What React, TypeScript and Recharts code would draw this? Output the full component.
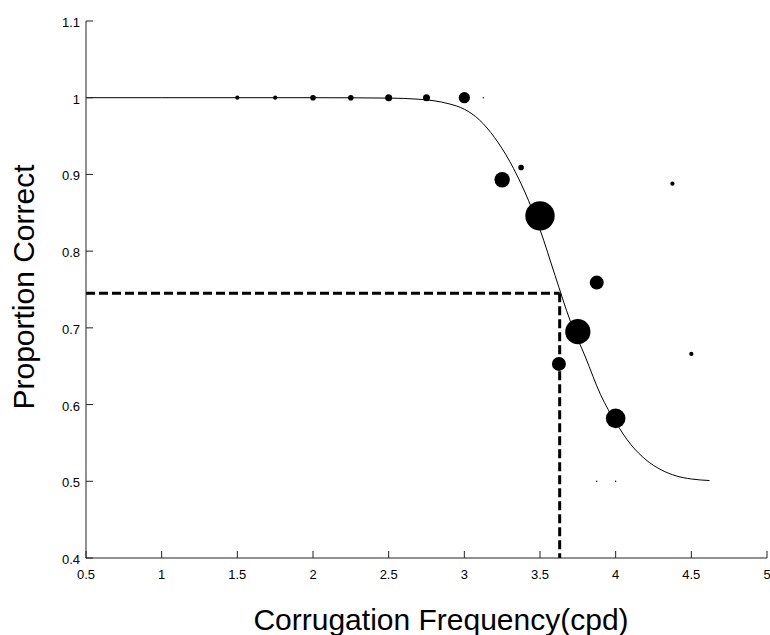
import { ComposedChart, Line, Scatter, XAxis, YAxis } from 'recharts';

// fitted psychometric curve
const curveX = [0.5, 1, 1.5, 2, 2.5, 2.7, 2.8, 2.9, 3.0, 3.1, 3.2, 3.3, 3.4, 3.5, 3.6, 3.7, 3.8, 3.9, 4.0, 4.1, 4.2, 4.3, 4.4, 4.5, 4.62];
const curveY = [1, 1, 1, 1, 0.9995, 0.998, 0.996, 0.992, 0.985, 0.971, 0.948, 0.917, 0.877, 0.828, 0.768, 0.709, 0.662, 0.613, 0.577, 0.548, 0.528, 0.515, 0.507, 0.503, 0.501];

// observed proportions, n = number of trials (sets the dot size)
const obsX = [1.5, 1.75, 2, 2.25, 2.5, 2.75, 3, 3.125, 3.25, 3.375, 3.5, 3.625, 3.75, 3.875, 4, 4.375, 4.5, 3.875, 4];
const obsY = [1, 1, 1, 1, 1, 1, 1, 1, 0.893, 0.909, 0.846, 0.653, 0.695, 0.759, 0.582, 0.888, 0.666, 0.5, 0.5];
const obsN = [3, 3, 4, 4, 5, 5, 8, 1, 11, 4, 21, 10, 18, 10, 14, 3, 3, 1, 1];

// threshold at 75% correct
const threshX = 3.63;
const threshY = 0.745;

const xTicks = [0.5, 1, 1.5, 2, 2.5, 3, 3.5, 4, 4.5, 5];
const yTicks = [0.4, 0.5, 0.6, 0.7, 0.8, 0.9, 1, 1.1];

const curveData = curveX.map((x, i) => ({ x, y: curveY[i] }));
const obsData = obsX.map((x, i) => ({ x, y: obsY[i], n: obsN[i] }));
const hLine = [{ x: 0.5, y: threshY }, { x: threshX, y: threshY }];
const vLine = [{ x: threshX, y: threshY }, { x: threshX, y: 0.4 }];

const font = '"Liberation Sans", Arial, Helvetica, sans-serif';
const axisColor = '#222';

function YTick(props: any) {
  const { x, y, payload } = props;
  return (
    <g>
      <line x1={x} y1={y} x2={x + 7} y2={y} stroke={axisColor} />
      <text x={x - 6} y={y + 6} textAnchor="end" fontSize={13} fontFamily={font} fill="#000">
        {String(payload.value)}
      </text>
    </g>
  );
}

function XTick(props: any) {
  const { x, y, payload } = props;
  return (
    <g>
      <line x1={x} y1={y} x2={x} y2={y - 7} stroke={axisColor} />
      <text x={x} y={y + 21} textAnchor="middle" fontSize={13} fontFamily={font} fill="#000">
        {String(payload.value)}
      </text>
    </g>
  );
}

function Dot(props: any) {
  const { cx, cy, payload } = props;
  return <circle cx={cx} cy={cy} r={payload.n * 0.7} fill="#000" />;
}

const xLabel = () => (
  <text x={441} y={630} textAnchor="middle" fontSize={30} fontFamily={font} fill="#000">
    Corrugation Frequency(cpd)
  </text>
);

const yLabel = () => (
  <text x={34} y={287} transform="rotate(-90 34 287)" textAnchor="middle" fontSize={30} fontFamily={font} fill="#000">
    Proportion Correct
  </text>
);

export default function App() {
  return (
    <div style={{ position: 'absolute', left: 0, top: 0, background: '#fff' }}>
      <ComposedChart width={770} height={635} margin={{ top: 21, right: 3, bottom: 0, left: 0 }}>
        <XAxis
          type="number"
          dataKey="x"
          domain={[0.5, 5]}
          ticks={xTicks}
          allowDataOverflow
          height={77}
          tickSize={0}
          tickMargin={0}
          tickLine={false}
          stroke={axisColor}
          tick={<XTick />}
          interval={0}
          label={xLabel}
        />
        <YAxis
          type="number"
          dataKey="y"
          domain={[0.4, 1.1]}
          ticks={yTicks}
          allowDataOverflow
          width={86}
          tickSize={0}
          tickMargin={0}
          tickLine={false}
          stroke={axisColor}
          tick={<YTick />}
          interval={0}
          label={yLabel}
        />
        <Line data={curveData} dataKey="y" type="monotone" stroke="#000" strokeWidth={1} dot={false} isAnimationActive={false} />
        <Line data={hLine} dataKey="y" stroke="#000" strokeWidth={3} strokeDasharray="9 4" dot={false} isAnimationActive={false} />
        <Line data={vLine} dataKey="y" stroke="#000" strokeWidth={3} strokeDasharray="9 4" dot={false} isAnimationActive={false} />
        <Scatter data={obsData} dataKey="y" shape={<Dot />} isAnimationActive={false} />
      </ComposedChart>
    </div>
  );
}
